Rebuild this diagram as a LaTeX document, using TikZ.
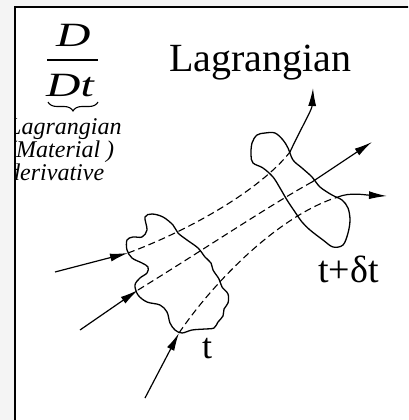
\documentclass[tikz,border=0pt]{standalone}
\usepackage{fontspec}
\setmainfont{Liberation Serif}
\usetikzlibrary{arrows.meta,decorations.pathreplacing}
\definecolor{pagegray}{RGB}{244,244,244}
\tikzset{
  blob/.style={black, line width=1.3pt},
  pathline/.style={black, line width=1.1pt, dash pattern=on 7pt off 4pt},
  flux/.style={-{Latex[length=18pt,width=8pt]}, black, line width=1.2pt},
  lbl/.style={inner sep=0pt, anchor=base west, font=\fontsize{36}{40}\selectfont},
  ital/.style={inner sep=0pt, anchor=base west, align=left,
               font=\fontsize{24}{20}\selectfont\itshape},
  bigD/.style={inner sep=0pt, anchor=base west, font=\fontsize{34}{38}\selectfont\itshape},
}

\begin{document}
\begin{tikzpicture}[x=1pt, y=-1pt]
  \useasboundingbox (0,0) rectangle (408,420);
  \clip (0,0) rectangle (408,420);
  \fill[pagegray] (0,0) rectangle (408,420);
  \draw[fill=white, line width=1.5pt] (15,7) rectangle (440,450);
  \begin{scope}
    \clip (15.8,7.8) rectangle (440,450);
    % material derivative
    \node[bigD] (num) at (56,47) {\scalebox{1.4}[1]{D}};
    \node[bigD] (den) at (46,96) {\scalebox{1.4}[1]{Dt}};
    \draw[line width=1.3pt] (47,60) -- (98,60);
    \draw[line width=1.1pt, decorate, decoration={brace, mirror, amplitude=9pt}] (48,102) -- (98,102);
    \node[ital] (words) at (8,180) {Lagrangian\\(Material )\\derivative};
    \node[lbl, font=\fontsize{40}{44}\selectfont] (title) at (169,71) {Lagrangian};

    % fluid parcel at t
    \draw[blob] plot[smooth cycle, tension=0.55] coordinates {
      (145,217) (152,214) (163,217) (173,225) (178,233) (187,240) (198,248)
      (205,257) (211,263) (213,270) (219,279) (222,287) (228,294) (228,303)
      (224,309) (223,316) (218,322) (214,328) (205,329) (192,330) (182,333)
      (175,330) (170,323) (167,312) (160,305) (147,302) (138,295) (135,285)
      (140,278) (147,273) (148,267) (142,263) (132,258) (127,250) (127,240)
      (133,237) (142,237) (147,230)};
    % fluid parcel at t+dt
    \draw[blob] plot[smooth cycle, tension=0.55] coordinates {
      (252,143) (257,135) (265,133) (275,133) (283,140) (288,148) (293,160)
      (302,168) (312,177) (320,187) (332,195) (342,200) (348,208) (350,220)
      (348,233) (343,245) (333,247) (323,240) (310,230) (302,222) (295,212)
      (287,200) (280,188) (273,177) (263,168) (253,163) (251,155)};

    \coordinate (a1) at (128,253);
    \coordinate (a2) at (138,290);
    \coordinate (a3) at (179,333);
    \coordinate (b1) at (290,152);
    \coordinate (b2) at (312,182);
    \coordinate (b3) at (338,197);
    \coordinate (s1) at (55,272);
    \coordinate (s2) at (80,330);
    \coordinate (s3) at (145,398);
    \coordinate (e1) at (313,88);
    \coordinate (e2) at (372,142);
    \coordinate (e3) at (387,196);

    % particle paths
    \draw[pathline] (a1) .. controls (190,230) and (260,190) .. (b1);
    \draw[pathline] (a2) .. controls (200,252) and (270,205) .. (b2);
    \draw[pathline] (a3) .. controls (215,280) and (280,215) .. (b3);

    % in and out
    \draw[flux] (s1) -- (a1);
    \draw[flux] (s2) -- (a2);
    \draw[flux] (s3) -- (a3);
    \draw[flux] (b1) .. controls (300,130) and (312,110) .. (e1);
    \draw[flux] (b2) -- (e2);
    \draw[flux] (b3) .. controls (350,192) and (365,195) .. (e3);

    \node[lbl] (tlab) at (202,358) {t};
    \node[lbl, font=\fontsize{38}{42}\selectfont] (tdlab) at (318,282) {t+δt};
  \end{scope}
\end{tikzpicture}
\end{document}
